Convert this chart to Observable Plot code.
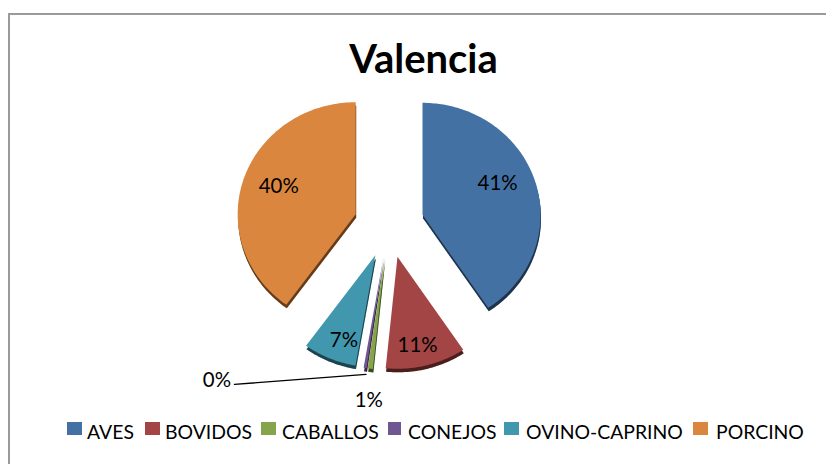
<!DOCTYPE html>
<html><head><meta charset="utf-8">
<script src="https://cdn.jsdelivr.net/npm/d3@7"></script>
<script src="https://cdn.jsdelivr.net/npm/@observablehq/plot@0.6"></script>
<style>
html,body{margin:0;padding:0;background:#fff;}
body{width:826px;height:464px;overflow:hidden;position:relative;font-family:Lato,sans-serif;color:#000;}
#frame{position:absolute;left:8px;top:13px;width:830px;height:470px;border-left:2px solid #9a9a9a;border-top:2px solid #9a9a9a;box-sizing:border-box;}
#title{position:relative;height:85px;text-align:center;font-weight:700;font-size:40px;line-height:40px;box-sizing:border-box;padding:38px 0 0 21px;}
#chart{position:relative;height:330px;}
#chart svg{display:block;}
#chart svg g[aria-label="line"]{filter:blur(.45px);}
#legend{position:relative;height:49px;font-size:19.4px;}
#legend i{position:absolute;top:7px;height:13px;}
#legend b{position:absolute;font-weight:400;top:5px;line-height:24px;white-space:nowrap;}
</style></head><body>
<div id="frame"></div>
<div id="title">Valencia</div>
<div id="chart"></div>
<div id="legend"></div>
<script>
const categories = ["AVES","BOVIDOS","CABALLOS","CONEJOS","OVINO-CAPRINO","PORCINO"];
const shares = [40.6, 11, 0.7, 0.4, 7.3, 40];
const colors = ["#4471a3","#a34544","#86a44b","#6f5592","#4097ae","#da863f"];

const swatchLeft = [67,145,261,388,504,693];
const swatchWidth = [15,15,15,13,15,15];
const labelLeft = [87,165,282,408,526,716];
// label centre relative to each slice's apex, in pie radii
const labelOffset = [[.636,-.277],[.17,.79],[-.135,1.277],[-1.412,1.1],[-.267,.764],[-.652,-.25]];
const leaderStart = [-1.263,1.134];
const leaderEnd = [-.149,1.045];

const explode = 0.297, rx = 118, ry = 112, W = 826, H = 330, cx = 388.5, cy = 139;
const total = d3.sum(shares);
let acc = 0;
const slices = categories.map((category, i) => {
  const a0 = acc / total * 2 * Math.PI; acc += shares[i];
  const a1 = acc / total * 2 * Math.PI, mid = (a0 + a1) / 2;
  return {category, a0, a1, mid, share: shares[i] / total,
          ax: explode * Math.sin(mid), ay: -explode * Math.cos(mid)};
});
const outline = slices.flatMap(s => {
  const n = Math.max(2, Math.ceil((s.a1 - s.a0) / 0.02));
  const pts = [{category: s.category, x: s.ax, y: s.ay}];
  for (let k = 0; k <= n; k++) {
    const a = s.a0 + (s.a1 - s.a0) * k / n;
    pts.push({category: s.category, x: s.ax + Math.sin(a), y: s.ay - Math.cos(a)});
  }
  return pts;
});
const labels = slices.map((s, i) => ({text: d3.format(".0%")(s.share),
  x: s.ax + labelOffset[i][0], y: s.ay + labelOffset[i][1]}));
const con = slices[3];
const leader = [
  {x: con.ax + leaderStart[0], y: con.ay + leaderStart[1]},
  {x: con.ax + leaderEnd[0], y: con.ay + leaderEnd[1]}
];

const lineOpts = {x: "x", y: "y", z: "category", stroke: "none", curve: "linear"};
const plot = Plot.plot({
  width: W, height: H, margin: 0,
  x: {domain: [-cx / rx, (W - cx) / rx], range: [0, W], axis: null},
  y: {domain: [-cy / ry, (H - cy) / ry], range: [0, H], axis: null},
  color: {domain: categories, range: colors},
  style: {background: "transparent", overflow: "visible"},
  marks: [
    Plot.line(outline, {...lineOpts, fill: "category", dx: 0.5, dy: 3.5}),
    Plot.line(outline, {...lineOpts, fill: "#000", fillOpacity: 0.55, dx: 0.5, dy: 3.5}),
    Plot.line(outline, {...lineOpts, fill: "category"}),
    Plot.line(leader, {x: "x", y: "y", stroke: "#000", strokeWidth: 1.4}),
    Plot.text(labels, {x: "x", y: "y", text: "text", fontSize: 20.4, fontFamily: "Lato, sans-serif", fill: "#000"})
  ]
});
document.getElementById("chart").append(plot);
plot.querySelectorAll('g[aria-label="line"]').forEach(g => {
  if (g.getAttribute("stroke") === "#000") g.style.filter = "none";
});
const legend = document.getElementById("legend");
categories.forEach((c, i) => {
  const sw = document.createElement("i");
  sw.style.left = swatchLeft[i] + "px"; sw.style.width = swatchWidth[i] + "px"; sw.style.background = colors[i];
  const t = document.createElement("b");
  t.style.left = labelLeft[i] + "px"; t.textContent = c;
  legend.append(sw, t);
});
</script>
</body></html>
